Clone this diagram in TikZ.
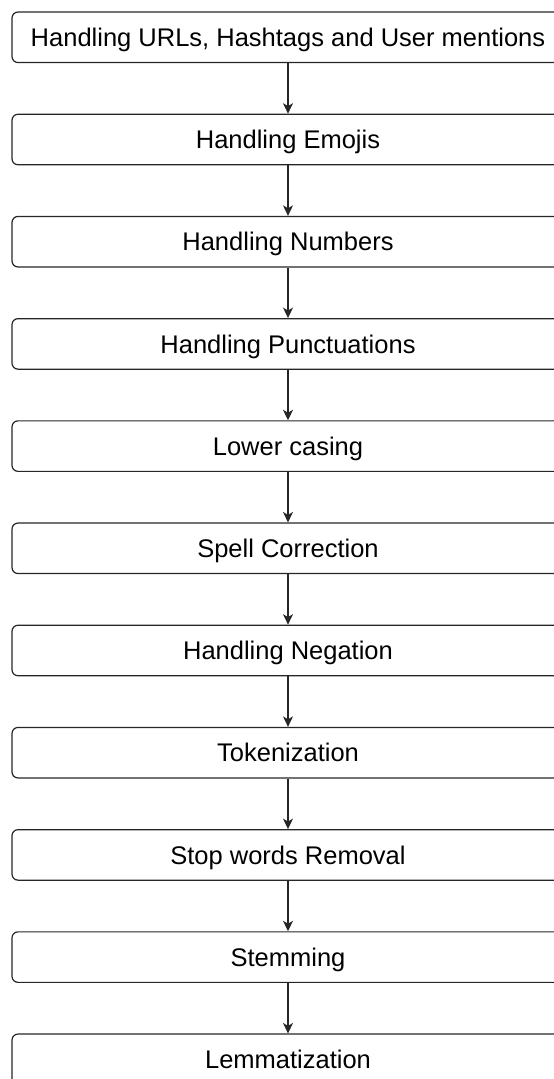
\documentclass[tikz,border=0pt]{standalone}
\usepackage{fontspec}
\setmainfont{Liberation Sans}
\usetikzlibrary{arrows.meta}
\begin{document}
\begin{tikzpicture}[x=1pt,y=-1pt,
  stepbox/.style={draw=black!85, line width=1.2pt, rounded corners=6pt,
    minimum width=552pt, minimum height=50.5pt, inner sep=0pt,
    font=\fontsize{25.5pt}{30pt}\selectfont, text height=18.3pt, text depth=0pt},
  flow/.style={draw=black!85, line width=1.2pt, -{Stealth[length=10.5pt,width=10pt,inset=3pt]}}]
\useasboundingbox (0,0) rectangle (554,1079);
\node[stepbox] (n0) at (288,37.3) {Handling URLs, Hashtags and User mentions};
\node[stepbox] (n1) at (288,139.5) {Handling Emojis};
\node[stepbox] (n2) at (288,241.7) {Handling Numbers};
\node[stepbox] (n3) at (288,343.9) {Handling Punctuations};
\node[stepbox] (n4) at (288,446.1) {Lower casing};
\node[stepbox] (n5) at (288,548.3) {Spell Correction};
\node[stepbox] (n6) at (288,650.5) {Handling Negation};
\node[stepbox] (n7) at (288,752.7) {Tokenization};
\node[stepbox] (n8) at (288,854.9) {Stop words Removal};
\node[stepbox] (n9) at (288,957.1) {Stemming};
\node[stepbox] (n10) at (288,1059.3) {Lemmatization};
\foreach \a/\b in {n0/n1,n1/n2,n2/n3,n3/n4,n4/n5,n5/n6,n6/n7,n7/n8,n8/n9,n9/n10}
  \draw[flow] (\a.south) -- (\b.north);
\end{tikzpicture}
\end{document}
